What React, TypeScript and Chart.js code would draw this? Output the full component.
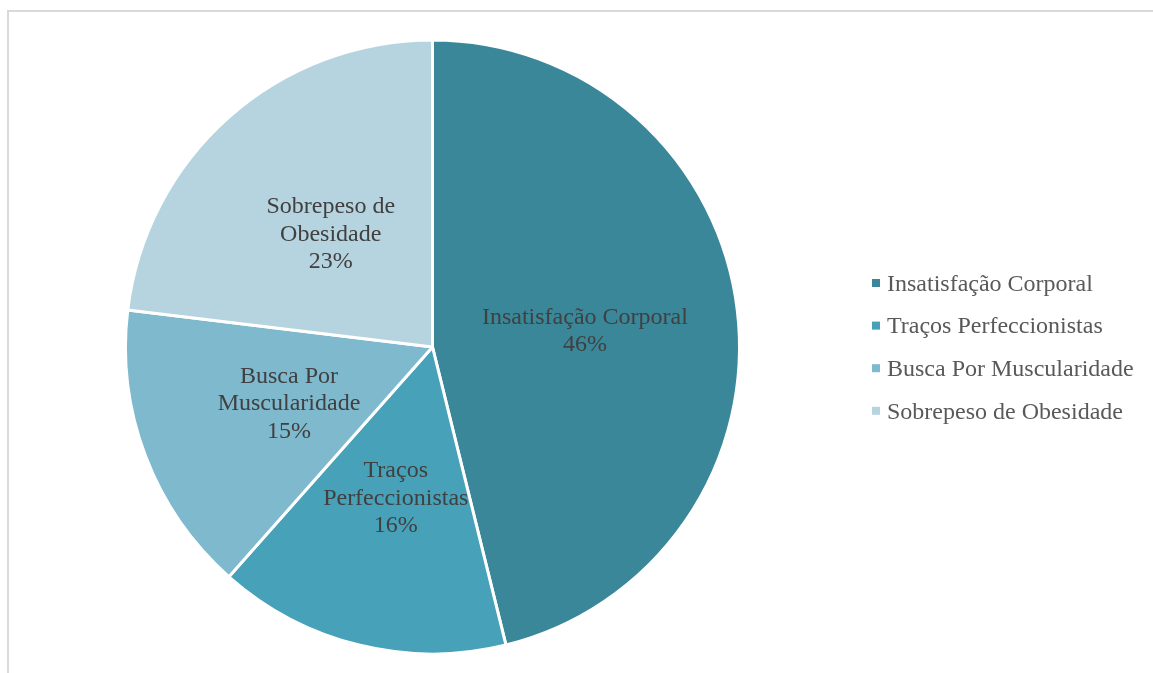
import React, { useEffect, useRef } from "react";
import { Chart, registerables } from "chart.js";

Chart.register(...registerables);

const categories = [
  "Insatisfação Corporal",
  "Traços Perfeccionistas",
  "Busca Por Muscularidade",
  "Sobrepeso de Obesidade",
];
const sliceLabelLines = [
  ["Insatisfação Corporal"],
  ["Traços", "Perfeccionistas"],
  ["Busca Por", "Muscularidade"],
  ["Sobrepeso de", "Obesidade"],
];
const values = [46.2, 15.4, 15.4, 23.1];
const percentLabels = ["46%", "16%", "15%", "23%"];
const colors = ["#3A8799", "#46A1B9", "#7EB9CE", "#B6D4DF"];

const FONT = '"Liberation Serif", "Times New Roman", serif';

const sliceLabelPlugin = {
  id: "sliceLabels",
  afterDatasetsDraw(chart: any) {
    const ctx = chart.ctx;
    const meta = chart.getDatasetMeta(0);
    ctx.save();
    ctx.font = `24px ${FONT}`;
    ctx.fillStyle = "#404040";
    ctx.textAlign = "center";
    ctx.textBaseline = "middle";
    const lh = 27.5;
    meta.data.forEach((arc: any, i: number) => {
      const p = arc.tooltipPosition();
      const lines = [...sliceLabelLines[i], percentLabels[i]];
      const y0 = p.y + 2.5 - ((lines.length - 1) * lh) / 2;
      lines.forEach((l: string, j: number) => ctx.fillText(l, p.x, y0 + j * lh));
    });
    ctx.restore();
  },
};

const legendPlugin = {
  id: "customLegend",
  afterDraw(chart: any) {
    const ctx = chart.ctx;
    ctx.save();
    ctx.font = `24px ${FONT}`;
    ctx.textBaseline = "middle";
    ctx.textAlign = "left";
    const x = 872;
    const y0 = 283;
    const gap = 42.6;
    categories.forEach((c, i) => {
      const y = y0 + i * gap;
      ctx.fillStyle = colors[i];
      ctx.fillRect(x, y - 4, 8, 8);
      ctx.fillStyle = "#595959";
      ctx.fillText(c, x + 15, y + 1.5);
    });
    ctx.restore();
  },
};

export default function App() {
  const ref = useRef<HTMLCanvasElement>(null);
  useEffect(() => {
    document.body.style.margin = "0";
    const chart = new Chart(ref.current!, {
      type: "pie",
      data: {
        labels: categories,
        datasets: [
          {
            data: values,
            backgroundColor: colors,
            borderColor: "#ffffff",
            borderWidth: 3,
          },
        ],
      },
      options: {
        animation: false,
        responsive: false,
        events: [],
        layout: { padding: { left: 124, top: 38.5, bottom: 17.5, right: 412 } },
        plugins: {
          legend: { display: false },
          tooltip: { enabled: false },
        },
      },
      plugins: [sliceLabelPlugin, legendPlugin],
    });
    return () => chart.destroy();
  }, []);
  return (
    <div style={{ position: "relative", width: 1153, height: 673, overflow: "hidden", background: "#fff" }}>
      <div
        style={{
          position: "absolute",
          left: 7,
          top: 10,
          width: 1300,
          height: 800,
          borderTop: "2px solid #d9d9d9",
          borderLeft: "2px solid #d9d9d9",
        }}
      />
      <canvas ref={ref} width={1153} height={673} style={{ position: "absolute", left: 0, top: 0 }} />
    </div>
  );
}
